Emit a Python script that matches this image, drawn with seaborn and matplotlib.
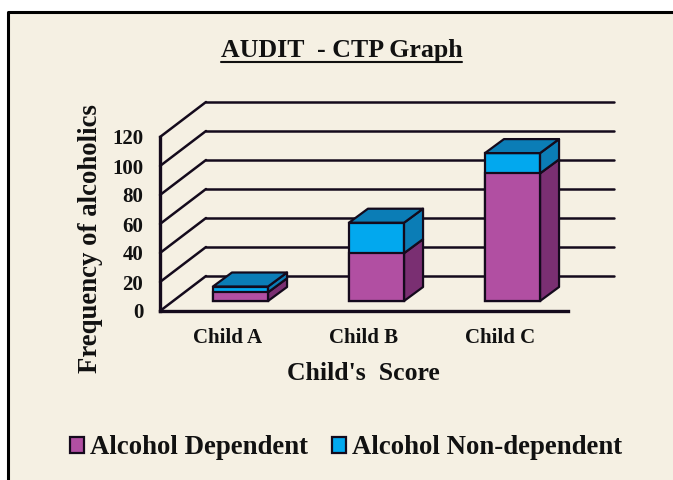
import numpy as np
import pandas as pd
import matplotlib
matplotlib.use('Agg')
import matplotlib.pyplot as plt
from matplotlib.patches import Patch, Polygon
from matplotlib.transforms import Affine2D
import seaborn as sns

# ── Data ───────────────────────────────────────────────────────────────
children = ['Child A', 'Child B', 'Child C']
dependent = [6, 33, 88]
non_dependent = [4, 21, 14]
y_ticks = [0, 20, 40, 60, 80, 100, 120]

# ── Colours ────────────────────────────────────────────────────────────
BG = '#F5F0E3'
INK = '#140A1C'
TEXT = '#111111'
PURPLE, PURPLE_SIDE = '#B14FA2', '#7A2F72'
BLUE, BLUE_SIDE = '#02A8EE', '#0B7DB6'

W, H = 673, 480
# one pixel in data units, axes run 160..568 px and 311..137 px
PX = 3 / (568 - 160)
PY = 120 / (311 - 137)

sns.set_theme(style='white')
plt.rcParams['font.family'] = ['Liberation Serif', 'DejaVu Serif']
plt.rcParams['font.weight'] = 'bold'

fig = plt.figure(figsize=(W / 100, H / 100), dpi=100, facecolor='white')

# panel with the black frame
bg = fig.add_axes([0, 0, 1, 1], zorder=0)
bg.set_xlim(0, W)
bg.set_ylim(H, 0)
bg.axis('off')
bg.fill([8, W, W, 8], [12, 12, H, H], color=BG, lw=0)
bg.plot([8, 8, W], [H, 12, 12], color='black', lw=2.2)

ax = fig.add_axes([160 / W, 1 - 311 / H, 408 / W, 174 / H], zorder=1)
ax.patch.set_alpha(0)

df = pd.DataFrame({'child': children, 'dep': dependent, 'non': non_dependent})
df['total'] = df['dep'] + df['non']

# front faces, total behind and dependent over it
sns.barplot(data=df, x='child', y='total', color=BLUE, saturation=1, width=0.405,
            edgecolor=INK, linewidth=1.6, ax=ax, zorder=5)
sns.barplot(data=df, x='child', y='dep', color=PURPLE, saturation=1, width=0.405,
            edgecolor=INK, linewidth=1.6, ax=ax, zorder=6)
ax.set_xlim(-0.5, 2.5)
ax.set_ylim(0, 120)

# bars stand a little way back on the floor
base_dx, base_dy = 12.5 * PX, 10 * PY
shift = Affine2D().translate(base_dx, base_dy) + ax.transData
for p in ax.patches:
    p.set_transform(shift)
    p.set_clip_on(False)

# back wall grid
wall_dx, wall_dy = 46 * PX, 35 * PY
for t in y_ticks:
    ax.plot([-0.5, -0.5 + wall_dx], [t, t + wall_dy], color=INK, lw=1.8, clip_on=False, zorder=2)
    ax.plot([-0.5 + wall_dx, 2.5 + wall_dx], [t + wall_dy, t + wall_dy],
            color=INK, lw=1.8, clip_on=False, zorder=2)

# side and top faces of the bars
bar_w = 0.405
side_dx, side_dy = 19 * PX, 14 * PY
for i, (d, tot) in enumerate(zip(df['dep'], df['total'])):
    x1 = i - bar_w / 2 + base_dx
    x2 = i + bar_w / 2 + base_dx
    y0 = base_dy
    ym = d + base_dy
    yt = tot + base_dy
    faces = [
        ([(x2, y0), (x2 + side_dx, y0 + side_dy), (x2 + side_dx, ym + side_dy), (x2, ym)], PURPLE_SIDE),
        ([(x2, ym), (x2 + side_dx, ym + side_dy), (x2 + side_dx, yt + side_dy), (x2, yt)], BLUE_SIDE),
        ([(x1, yt), (x2, yt), (x2 + side_dx, yt + side_dy), (x1 + side_dx, yt + side_dy)], BLUE_SIDE),
    ]
    for pts, col in faces:
        ax.add_patch(Polygon(pts, closed=True, facecolor=col, edgecolor=INK, lw=1.6,
                             clip_on=False, zorder=5, joinstyle='round'))

# axes
for s in ['top', 'right']:
    ax.spines[s].set_visible(False)
for s in ['left', 'bottom']:
    ax.spines[s].set_color(INK)
    ax.spines[s].set_linewidth(2.4)
    ax.spines[s].set_zorder(7)
ax.set_yticks(y_ticks)
ax.tick_params(axis='both', length=0)
ax.tick_params(axis='y', labelsize=15, pad=12, labelcolor=TEXT)
ax.tick_params(axis='x', labelsize=15, pad=12, labelcolor=TEXT)
ax.set_xlabel("Child's  Score", fontsize=18.5, fontweight='bold', color=TEXT, va='center')
ax.xaxis.set_label_coords((363.5 - 160) / 408, (311 - 374) / 174)
ax.set_ylabel('Frequency of alcoholics', fontsize=19.3, fontweight='bold', color=TEXT)
ax.yaxis.set_label_coords((103 - 160) / 408, (311 - 239) / 174)

# underlined title
title = fig.text(341.5 / W, 1 - 50 / H, 'AUDIT  - CTP Graph', ha='center', va='center',
                 fontsize=18.6, fontweight='bold', color=TEXT)
fig.canvas.draw()
tb = title.get_window_extent()
bg.plot([tb.x0, tb.x1], [61.5, 61.5], color=TEXT, lw=1.5)

# legend
handles = [Patch(facecolor=PURPLE, edgecolor=INK, lw=1.6, label='Alcohol Dependent'),
           Patch(facecolor=BLUE, edgecolor=INK, lw=1.6, label='Alcohol Non-dependent')]
fig.legend(handles=handles, loc='center', bbox_to_anchor=(346 / W, 1 - 448 / H), ncol=2,
           frameon=False, fontsize=19.3, handlelength=0.52, handleheight=0.52,
           handletextpad=0.22, columnspacing=0.89, labelcolor=TEXT, borderpad=0)

fig.savefig('out.png', dpi=100, facecolor='white')
